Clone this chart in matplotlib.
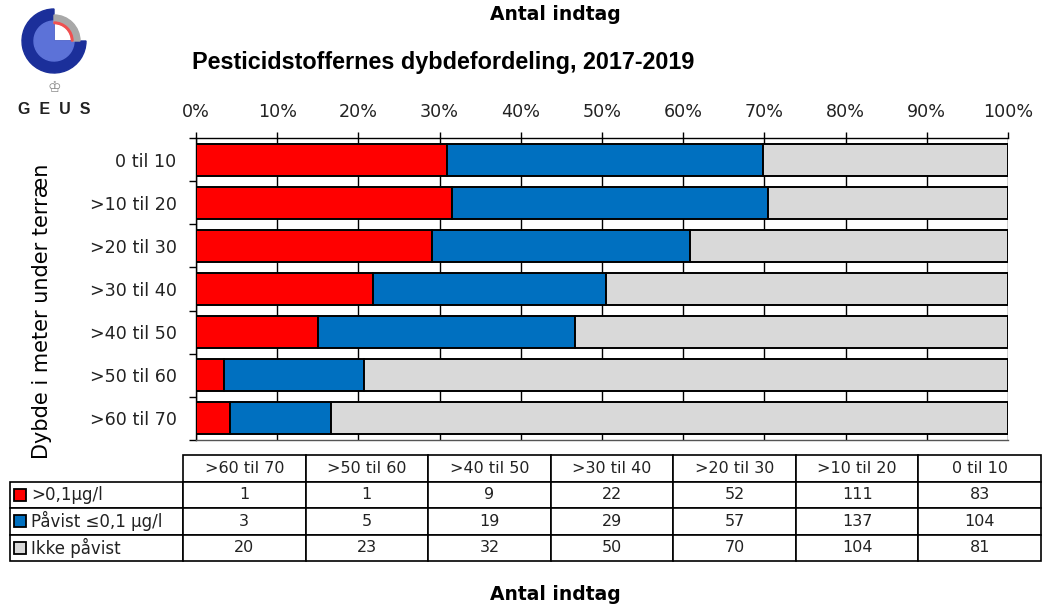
import numpy as np
import matplotlib
matplotlib.use("Agg")
import matplotlib.pyplot as plt
from matplotlib.patches import Wedge

# --- data (counts of intakes per depth interval) ---
depths = ["0 til 10", ">10 til 20", ">20 til 30", ">30 til 40",
          ">40 til 50", ">50 til 60", ">60 til 70"]
above_limit = [83, 111, 52, 22, 9, 1, 1]        # >0,1 µg/l
below_limit = [104, 137, 57, 29, 19, 5, 3]      # påvist <=0,1 µg/l
not_found = [81, 104, 70, 50, 32, 23, 20]       # ikke påvist

series_names = [">0,1µg/l", "Påvist ≤0,1 µg/l", "Ikke påvist"]
colors = ["#ff0000", "#0070c0", "#d9d9d9"]
x_ticks = [0, 10, 20, 30, 40, 50, 60, 70, 80, 90, 100]

W, H = 1047, 607
fig = plt.figure(figsize=(W / 100, H / 100), dpi=100)


def fx(px):
    return px / W


def fy(py):
    return 1 - py / H


# --- percentages ---
counts = np.array([above_limit, below_limit, not_found], dtype=float)
pct = counts / counts.sum(axis=0) * 100

# --- main bar axes ---
ax = fig.add_axes([fx(196), fy(440), fx(1008) - fx(196), fy(138) - fy(440)])
ypos = np.arange(len(depths))
left = np.zeros(len(depths))
for vals, c in zip(pct, colors):
    ax.barh(ypos, vals, left=left, height=0.74, color=c,
            edgecolor="black", linewidth=1.4, zorder=3)
    left += vals

ax.set_xlim(0, 100)
ax.set_ylim(len(depths) - 0.5, -0.5)
ax.xaxis.tick_top()
ax.set_xticks(x_ticks)
ax.set_xticklabels([f"{v}%" for v in x_ticks])
ax.tick_params(axis="x", direction="out", length=4, width=1, pad=8,
               labelsize=12.6, labelcolor="#222222")
ax.set_yticks(ypos)
ax.set_yticklabels(depths)
ax.tick_params(axis="y", which="major", length=0, pad=14,
               labelsize=12.6, labelcolor="#222222")
ax.set_yticks(np.arange(-0.5, len(depths)), minor=True)
ax.tick_params(axis="y", which="minor", direction="out", length=5, width=1)
ax.grid(axis="x", color="black", linewidth=1, zorder=0)
ax.set_axisbelow(True)
for side in ["top", "left", "bottom"]:
    ax.spines[side].set_linewidth(1)
ax.spines["right"].set_visible(False)
ax.spines["bottom"].set_color("#555555")

fig.text(fx(42), fy(311), "Dybde i meter under terræn", rotation=90,
         ha="center", va="center", fontsize=15, family="DejaVu Sans")
fig.text(fx(443), fy(62), "Pesticidstoffernes dybdefordeling, 2017-2019",
         ha="center", va="center", fontsize=16.8, fontweight="bold",
         family="Liberation Sans")
fig.text(fx(555), fy(14), "Antal indtag", ha="center", va="center",
         fontsize=13.5, fontweight="bold", family="DejaVu Sans")
fig.text(fx(555), fy(594), "Antal indtag", ha="center", va="center",
         fontsize=13.5, fontweight="bold", family="DejaVu Sans")

# --- data table (columns reversed, as in the original) ---
tax = fig.add_axes([fx(10), fy(561), fx(1041) - fx(10), fy(455) - fy(561)])
tax.axis("off")
rev = slice(None, None, -1)
cell_text = [[name] + [str(v) for v in row[rev]]
             for name, row in zip(series_names, [above_limit, below_limit, not_found])]
col_labels = [""] + depths[rev]
label_w = 173
data_w = (1041 - 10 - label_w) / len(depths)
widths = [label_w] + [data_w] * len(depths)
tbl = tax.table(cellText=cell_text, colLabels=col_labels,
                colWidths=[w / sum(widths) for w in widths],
                cellLoc="center", bbox=[0, 0, 1, 1])
tbl.auto_set_font_size(False)
tbl.set_fontsize(11.5)
for (r, c), cell in tbl.get_celld().items():
    cell.set_linewidth(1.2)
    cell.get_text().set_color("#222222")
    if r == 0 and c == 0:
        cell.visible_edges = "open"
    elif c == 0:
        cell.get_text().set_ha("left")
        cell.PAD = 0.12
        cell._loc = "left"
        cell.get_text().set_fontsize(12)

# legend swatches in the row-label cells
n_rows = len(series_names) + 1
for i, c in enumerate(colors):
    yc = 1 - (i + 1.5) / n_rows
    tax.plot([10 / (1041 - 10)], [yc], marker="s", markersize=8,
             markerfacecolor=c, markeredgecolor="black", markeredgewidth=1.3,
             transform=tax.transAxes, clip_on=False)

# --- GEUS logo (y measured upward from the bottom of the logo box) ---
lax = fig.add_axes([0, fy(125), fx(110), 1 - fy(125)])
lax.set_xlim(0, 110)
lax.set_ylim(0, 125)
lax.set_aspect("equal")
lax.axis("off")
cx, cy = 54, 125 - 41
lax.add_patch(Wedge((cx, cy), 32, 90, 360, color="#1b2f9a"))
lax.add_patch(Wedge((cx, cy), 20, 90, 360, color="#5c72d8"))
lax.add_patch(Wedge((cx, cy), 26, 0, 90, width=8, color="#a8a8a8"))
lax.add_patch(Wedge((cx, cy), 19, 0, 90, width=1.6, color="#f05050"))
lax.text(cx, 125 - 87, "♔", ha="center", va="center", fontsize=11,
         color="#888888", family="DejaVu Sans")
lax.text(cx, 125 - 109, "G  E  U  S", ha="center", va="center", fontsize=11.5,
         fontweight="bold", color="#222222", family="Liberation Sans")

fig.savefig("out.png", dpi=100)
